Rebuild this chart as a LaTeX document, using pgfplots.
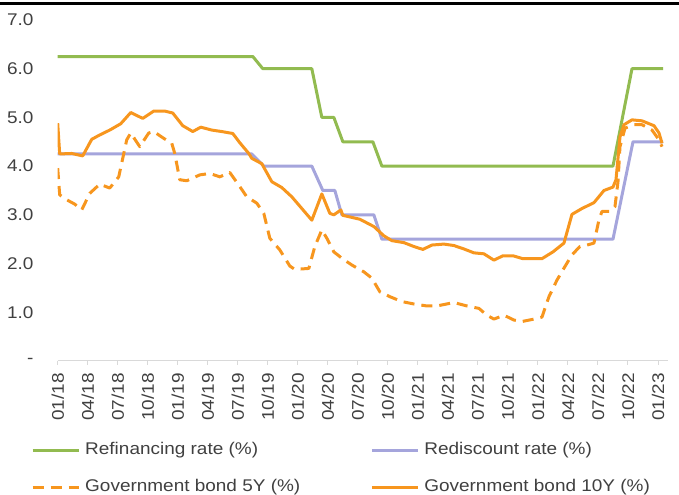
\documentclass[border=0pt]{standalone}
\usepackage{fontspec}
\setmainfont{Liberation Sans}[FakeStretch=1.12]
\usepackage{pgfplots}
\pgfplotsset{compat=1.18}
\definecolor{cgreen}{RGB}{146,187,80}
\definecolor{clav}{RGB}{165,165,220}
\definecolor{corange}{RGB}{247,150,30}
\definecolor{ctext}{RGB}{64,64,64}
\definecolor{caxis}{RGB}{217,217,217}
\begin{document}
\begin{tikzpicture}[x=1bp,y=1bp,font=\fontsize{17}{20}\selectfont]
\useasboundingbox (0,0) rectangle (679,495);
\draw[line width=3bp] (0,491) -- (679,491);
\begin{axis}[
 at={(57.7bp,134bp)}, anchor=south west,
 scale only axis, width=610.3bp, height=341bp,
 xmin=0, xmax=61, ymin=0, ymax=7,
 axis x line*=bottom, axis y line*=left,
 y axis line style={draw=none},
 x axis line style={draw=caxis, line width=1bp},
 xtick={0,3,...,60},
 xticklabels={01/18,04/18,07/18,10/18,01/19,04/19,07/19,10/19,01/20,04/20,07/20,10/20,01/21,04/21,07/21,10/21,01/22,04/22,07/22,10/22,01/23},
 ytick={0,1,...,7},
 yticklabels={{-\hspace{7bp}},1.0,2.0,3.0,4.0,5.0,6.0,7.0},
 tick align=outside,
 major tick length=4bp,
 xtick style={draw=caxis, line width=1bp},
 ytick style={draw=none},
 tick label style={font=\fontsize{17}{20}\selectfont, text=ctext, inner sep=0pt},
 xticklabel style={rotate=90, anchor=east},
 yticklabel style={anchor=east},
 xticklabel shift=8bp,
 yticklabel shift=20bp,
 legend columns=2,
 legend cell align=left,
 legend style={at={(-0.0437,-0.236)}, anchor=north west, draw=none, fill=none, inner sep=0pt,
   font=\fontsize{17}{20}\selectfont, text=ctext, row sep=20bp,
   nodes={inner sep=0pt, text height=13bp, text depth=4bp},
   /tikz/every odd column/.append style={column sep=5bp},
   /tikz/column 2/.append style={column sep=70bp}},
 legend image code/.code={\draw[#1] (0bp,0bp) -- (46bp,0bp);},
 every axis plot/.append style={line width=3bp, line join=round, no markers},
]
\addplot[cgreen] coordinates {
(0,6.25) (19.5,6.25) (20.5,6.0) (25.4,6.0) (26.4,5.0) (27.6,5.0) (28.5,4.5) (31.5,4.5) (32.4,4.0) (55.5,4.0) (57.4,6.0) (60.5,6.0)};
\addlegendentry{Refinancing rate (\%)}
\addplot[clav] coordinates {
(0,4.25) (19.4,4.25) (20.6,4.0) (25.4,4.0) (26.5,3.5) (27.7,3.5) (28.4,3.0) (31.6,3.0) (32.4,2.5) (55.5,2.5) (57.5,4.5) (60.5,4.5)};
\addlegendentry{Rediscount rate (\%)}
\addplot[corange, dash pattern=on 11bp off 7bp] coordinates {
(0,3.96) (0.2,3.41) (0.9,3.31) (1.7,3.22) (2.4,3.10) (3.2,3.44) (4.2,3.63) (5.2,3.55) (6.1,3.78) (6.9,4.54) (7.3,4.68) (8.2,4.40) (9.1,4.68) (9.6,4.71) (10.6,4.57) (11.4,4.47) (11.7,4.26) (12.2,3.72) (12.9,3.70) (14.2,3.82) (15.2,3.85) (16.2,3.78) (17.2,3.87) (18.2,3.58) (18.9,3.37) (19.9,3.24) (20.6,3.03) (21.2,2.52) (22.2,2.28) (23.2,1.95) (23.7,1.88) (25.1,1.90) (25.7,2.35) (26.4,2.69) (26.9,2.52) (27.6,2.24) (28.4,2.11) (29.4,1.97) (30.6,1.83) (31.4,1.70) (32.2,1.42) (33.2,1.32) (34.4,1.22) (35.6,1.17) (36.9,1.13) (37.9,1.13) (39.6,1.20) (40.9,1.13) (42.1,1.08) (42.9,0.94) (43.6,0.86) (44.6,0.94) (45.6,0.84) (46.4,0.81) (47.6,0.86) (48.4,0.90) (49.1,1.32) (49.9,1.66) (50.7,1.94) (51.4,2.18) (52.2,2.35) (52.9,2.38) (53.6,2.42) (54.1,2.90) (54.4,3.07) (55.2,3.07) (55.7,3.17) (56.0,3.68) (56.2,4.40) (56.7,4.78) (57.6,4.85) (58.4,4.85) (59.4,4.74) (60.1,4.54) (60.4,4.40)};
\addlegendentry{Government bond 5Y (\%)}
\addplot[corange] coordinates {
(0,4.88) (0.2,4.25) (1.4,4.26) (2.5,4.21) (3.4,4.55) (4.2,4.64) (5.2,4.74) (6.3,4.87) (7.3,5.10) (8.5,4.98) (9.6,5.13) (10.7,5.13) (11.5,5.09) (12.5,4.83) (13.5,4.71) (14.3,4.80) (15.4,4.74) (16.4,4.71) (17.5,4.67) (18.2,4.48) (19.1,4.26) (19.4,4.16) (20.4,4.05) (21.4,3.68) (22.4,3.56) (23.4,3.37) (24.4,3.13) (25.4,2.89) (26.4,3.43) (27.2,3.03) (27.6,3.00) (28.3,3.10) (28.5,2.99) (30.2,2.91) (31.6,2.76) (32.6,2.57) (33.4,2.47) (34.6,2.43) (35.6,2.35) (36.5,2.29) (37.4,2.38) (38.6,2.40) (39.6,2.37) (40.6,2.30) (41.6,2.22) (42.6,2.20) (43.6,2.07) (44.5,2.16) (45.5,2.16) (46.5,2.10) (47.5,2.10) (48.4,2.10) (49.5,2.24) (50.6,2.42) (51.4,3.01) (52.4,3.13) (53.6,3.25) (54.6,3.50) (55.5,3.57) (55.8,3.72) (56.2,4.60) (56.6,4.85) (57.4,4.95) (58.4,4.93) (59.6,4.83) (60.1,4.68) (60.4,4.47)};
\addlegendentry{Government bond 10Y (\%)}
\end{axis}
\end{tikzpicture}
\end{document}
